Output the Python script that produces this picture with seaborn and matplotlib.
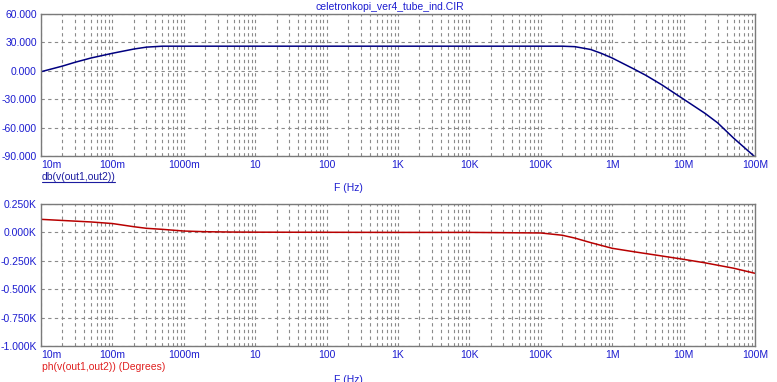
import numpy as np
import pandas as pd
import matplotlib
matplotlib.use("Agg")
import matplotlib.pyplot as plt
import seaborn as sns

# values
freq_db = [0.01, 0.02, 0.03, 0.05, 0.1, 0.2, 0.3, 0.5, 1, 10, 100, 1e3, 1e4, 1e5,
           2e5, 3e5, 5e5, 7e5, 1e6, 2e6, 3e6, 5e6, 1e7, 2e7, 3e7, 5e7, 1e8]
gain_db = [-1, 5, 9, 13.5, 18.5, 23, 25, 26, 26, 26, 26, 26, 26, 26,
           26, 25.5, 22.5, 18.5, 13.5, 2, -5, -15, -30, -45, -55, -71, -91]

freq_ph = [0.01, 0.02, 0.05, 0.1, 0.2, 0.3, 0.5, 1, 2, 5, 10, 100, 1e3, 1e4, 1e5,
           2e5, 3e5, 5e5, 1e6, 2e6, 5e6, 1e7, 2e7, 5e7, 1e8]
phase_deg = [115, 105, 92, 78, 50, 36, 27, 12, 6, 3, 2, 1, 0, 0, -5,
             -25, -50, -90, -140, -170, -208, -237, -268, -315, -360]

x_ticks = [1e-2, 1e-1, 1, 10, 100, 1e3, 1e4, 1e5, 1e6, 1e7, 1e8]
x_labels = ["10m", "100m", "1000m", "10", "100", "1K", "10K", "100K", "1M", "10M", "100M"]
db_ticks = [-90, -60, -30, 0, 30, 60]
db_labels = ["-90.000", "-60.000", "-30.000", "0.000", "30.000", "60.000"]
ph_ticks = [-1000, -750, -500, -250, 0, 250]
ph_labels = ["-1.000K", "-0.750K", "-0.500K", "-0.250K", "0.000K", "0.250K"]

sns.set_style("white")
plt.rcParams["font.family"] = ["Liberation Sans", "DejaVu Sans"]

blue_txt = "#1c1cd0"
grid_c = "#8a8a8a"

fig = plt.figure(figsize=(7.77, 3.82), dpi=100)
ax1 = fig.add_axes([41 / 777, 1 - 156 / 382, 714 / 777, 142 / 382])
ax2 = fig.add_axes([41 / 777, 1 - 346 / 382, 714 / 777, 142 / 382])

df1 = pd.DataFrame({"f": freq_db, "v": gain_db})
df2 = pd.DataFrame({"f": freq_ph, "v": phase_deg})
sns.lineplot(data=df1, x="f", y="v", ax=ax1, color="#000080", lw=1.1)
sns.lineplot(data=df2, x="f", y="v", ax=ax2, color="#b80000", lw=1.1)

for ax, yt, yl in [(ax1, db_ticks, db_labels), (ax2, ph_ticks, ph_labels)]:
    ax.set_xscale("log")
    ax.set_xlim(1e-2, 1e8)
    ax.set_ylim(yt[0], yt[-1])
    ax.set_yticks(yt)
    ax.set_yticklabels(yl)
    ax.set_xticks(x_ticks)
    ax.set_xticklabels(x_labels)
    ax.xaxis.set_minor_locator(matplotlib.ticker.LogLocator(base=10, subs=np.arange(2, 10), numticks=100))
    ax.xaxis.set_minor_formatter(matplotlib.ticker.NullFormatter())
    ax.grid(True, which="both", axis="x", color=grid_c, ls=(0, (3, 3)), lw=0.8)
    ax.grid(True, which="major", axis="y", color=grid_c, ls=(0, (3, 3)), lw=0.8)
    ax.tick_params(which="both", length=0, labelsize=7.5, labelcolor=blue_txt, pad=3)
    ax.set_xlabel("")
    ax.set_ylabel("")
    for s in ax.spines.values():
        s.set_color("#7a7a7a")
        s.set_linewidth(1)
    ax.get_xticklabels()[0].set_horizontalalignment("left")

fig.text(390 / 777, 1 - 7 / 382, "celetronkopi_ver4_tube_ind.CIR", color=blue_txt,
         fontsize=7.5, ha="center", va="center")
t1 = fig.text(42 / 777, 1 - 177 / 382, "db(v(out1,out2))", color="#1c1ca0",
              fontsize=7.5, ha="left", va="center")
fig.add_artist(plt.Line2D([42 / 777, 115 / 777], [1 - 182 / 382, 1 - 182 / 382],
                          color="#1c1ca0", lw=0.8))
fig.text(348 / 777, 1 - 188 / 382, "F (Hz)", color=blue_txt, fontsize=7.5,
         ha="center", va="center")
fig.text(42 / 777, 1 - 367 / 382, "ph(v(out1,out2)) (Degrees)", color="#e02020",
         fontsize=7.5, ha="left", va="center")
fig.text(348 / 777, 1 - 380 / 382, "F (Hz)", color=blue_txt, fontsize=7.5,
         ha="center", va="center")

fig.savefig("out.png", dpi=100)
